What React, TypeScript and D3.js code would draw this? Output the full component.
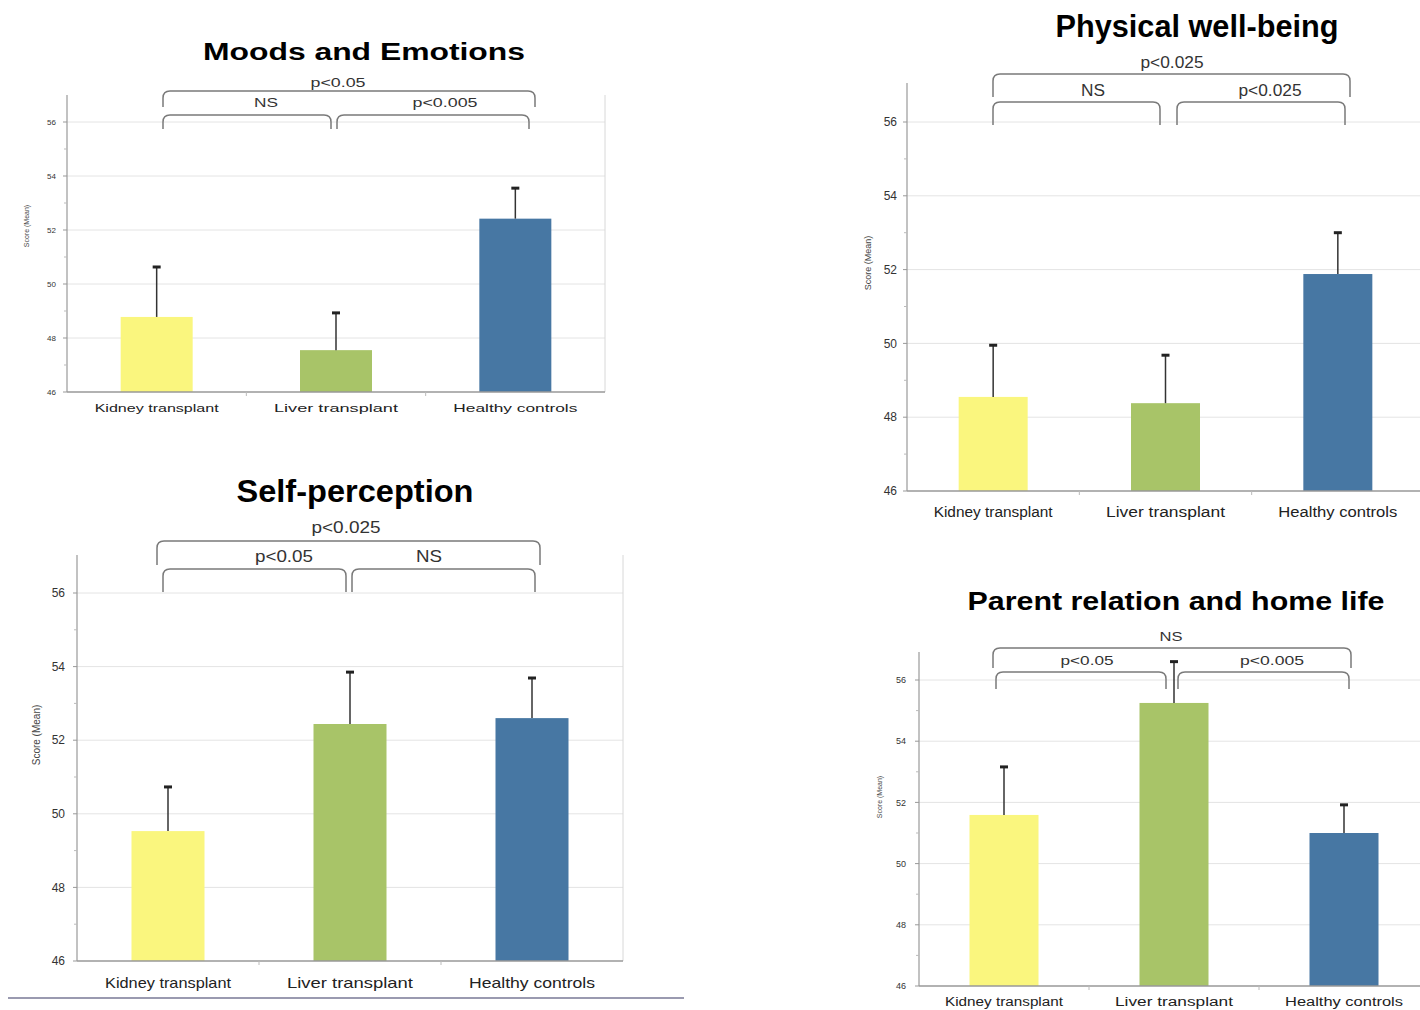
import React from "react";
import * as d3 from "d3";

const categories = ["Kidney transplant", "Liver transplant", "Healthy controls"];
const colors = ["#faf67e", "#a8c468", "#4777a3"];
const yTicks = [46, 48, 50, 52, 54, 56];
const minorTicks = [47, 49, 51, 53, 55];

const titles = ["Moods and Emotions", "Physical well-being", "Self-perception", "Parent relation and home life"];

const moodsMean = [48.78, 47.55, 52.42];
const moodsUpper = [50.63, 48.93, 53.55];
const physicalMean = [48.55, 48.38, 51.88];
const physicalUpper = [49.95, 49.68, 53.0];
const selfMean = [49.53, 52.44, 52.6];
const selfUpper = [50.73, 53.85, 53.69];
const parentMean = [51.59, 55.25, 51.0];
const parentUpper = [53.16, 56.6, 51.92];

// significance labels: [outer, inner-left, inner-right]
const moodsSig = ["p<0.05", "NS", "p<0.005"];
const physicalSig = ["p<0.025", "NS", "p<0.025"];
const selfSig = ["p<0.025", "p<0.05", "NS"];
const parentSig = ["NS", "p<0.05", "p<0.005"];

const FONT = "Liberation Sans, Arial, sans-serif";

type Layout = {
  left: number; right: number; gridRight: number; y46: number; y56: number; axisTop: number;
  title: { x: number; y: number; size: number; len: number };
  tickSize: number; tickGap: number;
  xLabelY: number; xLabelSize: number; xLabelLen: number;
  yLabel: { x: number; y: number; size: number };
  barWidth: number;
  outer: { x1: number; x2: number; top: number; end: number; ly: number };
  inL: { x1: number; x2: number };
  inR: { x1: number; x2: number };
  inner: { top: number; end: number; ly: number };
  sigSize: number;
  sigX: number[];
  sigLen: number[];
};

const layouts: Layout[] = [
  {
    left: 67, right: 605, gridRight: 605, y46: 392, y56: 122, axisTop: 95,
    title: { x: 364, y: 60, size: 23, len: 322 },
    tickSize: 8, tickGap: 11,
    xLabelY: 412, xLabelSize: 11, xLabelLen: 124,
    yLabel: { x: 29, y: 226, size: 7 },
    barWidth: 72,
    outer: { x1: 163, x2: 535, top: 91, end: 107, ly: 87 },
    inL: { x1: 163, x2: 331 }, inR: { x1: 337, x2: 529 },
    inner: { top: 115, end: 129, ly: 107 },
    sigSize: 12, sigX: [338, 266, 445], sigLen: [55, 24, 65],
  },
  {
    left: 907, right: 1424, gridRight: 1420, y46: 491, y56: 122, axisTop: 83,
    title: { x: 1197, y: 37, size: 31, len: 283 },
    tickSize: 12, tickGap: 10,
    xLabelY: 517, xLabelSize: 14, xLabelLen: 119,
    yLabel: { x: 871, y: 263, size: 9 },
    barWidth: 69,
    outer: { x1: 993, x2: 1350, top: 74, end: 97, ly: 68 },
    inL: { x1: 993, x2: 1160 }, inR: { x1: 1177, x2: 1345 },
    inner: { top: 102, end: 125, ly: 96 },
    sigSize: 16, sigX: [1172, 1093, 1270], sigLen: [63, 24, 63],
  },
  {
    left: 77, right: 623, gridRight: 623, y46: 961, y56: 593, axisTop: 555,
    title: { x: 355, y: 502, size: 31, len: 237 },
    tickSize: 12, tickGap: 12,
    xLabelY: 988, xLabelSize: 15, xLabelLen: 126,
    yLabel: { x: 40, y: 735, size: 10 },
    barWidth: 73,
    outer: { x1: 157, x2: 540, top: 541, end: 565, ly: 533 },
    inL: { x1: 163, x2: 346 }, inR: { x1: 352, x2: 535 },
    inner: { top: 569, end: 592, ly: 562 },
    sigSize: 17, sigX: [346, 284, 429], sigLen: [69, 58, 26],
  },
  {
    left: 919, right: 1429, gridRight: 1420, y46: 986, y56: 680, axisTop: 652,
    title: { x: 1176, y: 610, size: 25, len: 417 },
    tickSize: 9, tickGap: 13,
    xLabelY: 1006, xLabelSize: 12, xLabelLen: 118,
    yLabel: { x: 882, y: 797, size: 7 },
    barWidth: 69,
    outer: { x1: 993, x2: 1351, top: 648, end: 668, ly: 641 },
    inL: { x1: 996, x2: 1166 }, inR: { x1: 1178, x2: 1349 },
    inner: { top: 672, end: 689, ly: 665 },
    sigSize: 13, sigX: [1171, 1087, 1272], sigLen: [23, 53, 64],
  },
];

const panelData = [
  { mean: moodsMean, upper: moodsUpper, sig: moodsSig },
  { mean: physicalMean, upper: physicalUpper, sig: physicalSig },
  { mean: selfMean, upper: selfUpper, sig: selfSig },
  { mean: parentMean, upper: parentUpper, sig: parentSig },
];

function bracket(x1: number, x2: number, top: number, end: number) {
  const r = 7;
  return `M${x1},${end} L${x1},${top + r} Q${x1},${top} ${x1 + r},${top} L${x2 - r},${top} Q${x2},${top} ${x2},${top + r} L${x2},${end}`;
}

function Panel({ idx }: { idx: number }) {
  const L = layouts[idx];
  const D = panelData[idx];
  const y = d3.scaleLinear().domain([46, 56]).range([L.y46, L.y56]);
  const x = d3.scaleBand<string>().domain(categories).range([L.left, L.right]);
  const bw = x.bandwidth();
  const cx = (c: string) => (x(c) as number) + bw / 2;
  const boundaries = categories.slice(1).map((c) => x(c) as number);
  const bracketColor = "#7a7a7a";
  const sigY = [L.outer.ly, L.inner.ly, L.inner.ly];
  return (
    <g>
      <text x={L.title.x} y={L.title.y} textAnchor="middle" fontFamily={FONT} fontWeight="bold"
        fontSize={L.title.size} textLength={L.title.len} lengthAdjust="spacingAndGlyphs" fill="#000">
        {titles[idx]}
      </text>
      {yTicks.slice(1).map((t) => (
        <line key={"g" + t} x1={L.left} x2={L.gridRight} y1={y(t)} y2={y(t)} stroke="#e4e4e4" strokeWidth={1} />
      ))}
      {L.gridRight === L.right && (
        <line x1={L.right} x2={L.right} y1={L.axisTop} y2={L.y46} stroke="#d8d8d8" strokeWidth={1} />
      )}
      {categories.map((c, i) => (
        <rect key={c} x={cx(c) - L.barWidth / 2} width={L.barWidth} y={y(D.mean[i])}
          height={y(46) - y(D.mean[i])} fill={colors[i]} />
      ))}
      {categories.map((c, i) => (
        <g key={"e" + c}>
          <line x1={cx(c)} x2={cx(c)} y1={y(D.mean[i])} y2={y(D.upper[i])} stroke="#333" strokeWidth={1.5} />
          <line x1={cx(c) - 4} x2={cx(c) + 4} y1={y(D.upper[i])} y2={y(D.upper[i])} stroke="#222" strokeWidth={3} />
        </g>
      ))}
      <line x1={L.left} x2={L.left} y1={L.axisTop} y2={L.y46} stroke="#999" strokeWidth={1.2} />
      <line x1={L.left} x2={L.gridRight} y1={L.y46} y2={L.y46} stroke="#999" strokeWidth={1.5} />
      {yTicks.map((t) => (
        <g key={"t" + t}>
          <line x1={L.left - 4} x2={L.left} y1={y(t)} y2={y(t)} stroke="#999" />
          <text x={L.left - L.tickGap} y={y(t)} dy="0.35em" textAnchor="end" fontFamily={FONT}
            fontSize={L.tickSize} fill="#333">{t}</text>
        </g>
      ))}
      {minorTicks.map((t) => (
        <line key={"m" + t} x1={L.left - 3} x2={L.left} y1={y(t)} y2={y(t)} stroke="#bbb" />
      ))}
      {boundaries.map((b) => (
        <line key={"b" + b} x1={b} x2={b} y1={L.y46} y2={L.y46 + 4} stroke="#bbb" />
      ))}
      {categories.map((c) => (
        <text key={"xl" + c} x={cx(c)} y={L.xLabelY} textAnchor="middle" fontFamily={FONT}
          fontSize={L.xLabelSize} textLength={L.xLabelLen} lengthAdjust="spacingAndGlyphs" fill="#222">{c}</text>
      ))}
      <text transform={`translate(${L.yLabel.x},${L.yLabel.y}) rotate(-90)`} textAnchor="middle"
        fontFamily={FONT} fontSize={L.yLabel.size} fill="#444">Score (Mean)</text>
      <path d={bracket(L.outer.x1, L.outer.x2, L.outer.top, L.outer.end)} fill="none" stroke={bracketColor} strokeWidth={1.5} />
      <path d={bracket(L.inL.x1, L.inL.x2, L.inner.top, L.inner.end)} fill="none" stroke={bracketColor} strokeWidth={1.5} />
      <path d={bracket(L.inR.x1, L.inR.x2, L.inner.top, L.inner.end)} fill="none" stroke={bracketColor} strokeWidth={1.5} />
      {D.sig.map((s, k) => (
        <text key={"s" + k} x={L.sigX[k]} y={sigY[k]} textAnchor="middle" fontFamily={FONT}
          fontSize={L.sigSize} textLength={L.sigLen[k]} lengthAdjust="spacingAndGlyphs" fill="#333">{s}</text>
      ))}
    </g>
  );
}

export default function App() {
  return (
    <svg width={1420} height={1010} style={{ position: "absolute", left: 0, top: 0, background: "#fff" }}>
      <rect x={0} y={0} width={1420} height={1010} fill="#fff" />
      {layouts.map((_, i) => (
        <Panel key={i} idx={i} />
      ))}
      <line x1={8} x2={684} y1={998} y2={998} stroke="#9a9ab0" strokeWidth={2} />
    </svg>
  );
}
